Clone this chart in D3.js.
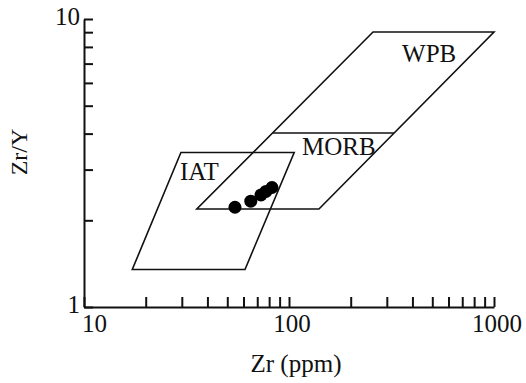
<!DOCTYPE html>
<html>
<head>
<meta charset="utf-8">
<script src="https://cdn.jsdelivr.net/npm/d3@7"></script>
<style>
  body { margin: 0; background: #fff; }
  text { font-family: "Liberation Serif", "Times New Roman", serif; fill: #111; }
</style>
</head>
<body>
<svg id="chart" width="526" height="383"></svg>
<script>
// field outlines (Zr ppm, Zr/Y)
var iatZr = [17.2, 61, 106, 29.7];
var iatZrY = [1.35, 1.35, 3.44, 3.44];
var wpbZr = [35.5, 140, 1000, 257];
var wpbZrY = [2.19, 2.19, 9.01, 9.01];
var morbTopZr = [83.6, 325];
var morbTopZrY = [4.02, 4.02];

// samples
var sampleZr = [54.5, 65.1, 73.0, 77.2, 82.6];
var sampleZrY = [2.22, 2.33, 2.45, 2.52, 2.60];

// field names
var fieldNames = ["WPB", "MORB", "IAT"];
var fieldZr = [356, 115.7, 29.4];
var fieldZrY = [7.09, 3.37, 2.76];

var xTickLabels = [10, 100, 1000];
var yTickLabels = [1, 10];

var svg = d3.select("#chart");

var x = d3.scaleLog().domain([10, 1000]).range([84, 494]);
var y = d3.scaleLog().domain([1, 10]).range([307, 19]);

// x axis, ticks pointing up
var xTicks = d3.range(10, 100, 10).concat(d3.range(100, 1001, 100));
svg.append("g")
    .attr("transform", "translate(0," + y(1) + ")")
    .call(d3.axisBottom(x).tickValues(xTicks).tickSizeInner(-10).tickSizeOuter(0).tickFormat(""))
    .call(function(g){ g.selectAll("line, path").attr("stroke", "#111").attr("stroke-width", 2); });

// y axis, ticks pointing right
var yTicks = d3.range(1, 11);
svg.append("g")
    .attr("transform", "translate(" + x(10) + ",0)")
    .call(d3.axisLeft(y).tickValues(yTicks).tickSizeInner(-9).tickSizeOuter(0).tickFormat(""))
    .call(function(g){ g.selectAll("line, path").attr("stroke", "#111").attr("stroke-width", 2); });

// tick labels
svg.selectAll(".xl")
    .data(xTickLabels)
    .enter().append("text")
    .attr("class", "xl")
    .attr("x", function(d){ return d == 10 ? x(d) - 2 : x(d) + 3; })
    .attr("y", 332)
    .attr("text-anchor", function(d){ return d == 10 ? "start" : "middle"; })
    .attr("font-size", 25)
    .text(function(d){ return d; });

svg.selectAll(".yl")
    .data(yTickLabels)
    .enter().append("text")
    .attr("class", "yl")
    .attr("x", 80)
    .attr("y", function(d){ return y(d) + 6; })
    .attr("text-anchor", "end")
    .attr("font-size", 25)
    .text(function(d){ return d; });

// axis titles
svg.append("text")
    .attr("x", 296).attr("y", 372)
    .attr("text-anchor", "middle")
    .attr("font-size", 25)
    .text("Zr (ppm)");

svg.append("text")
    .attr("transform", "translate(27,152) rotate(-90)")
    .attr("text-anchor", "middle")
    .attr("font-size", 24)
    .text("Zr/Y");

// fields
var line = d3.line()
    .x(function(d){ return x(d[0]); })
    .y(function(d){ return y(d[1]); });

function outline(zr, zry, closed){
    var pts = d3.zip(zr, zry);
    svg.append("path")
        .attr("d", line(pts) + (closed ? "Z" : ""))
        .attr("fill", "none")
        .attr("stroke", "#111")
        .attr("stroke-width", 1.6);
}
outline(iatZr, iatZrY, true);
outline(wpbZr, wpbZrY, true);
outline(morbTopZr, morbTopZrY, false);

svg.selectAll(".field")
    .data(fieldNames)
    .enter().append("text")
    .attr("class", "field")
    .attr("x", function(d, i){ return x(fieldZr[i]); })
    .attr("y", function(d, i){ return y(fieldZrY[i]); })
    .attr("font-size", 25)
    .text(function(d){ return d; });

// samples
svg.selectAll(".dot")
    .data(d3.zip(sampleZr, sampleZrY))
    .enter().append("circle")
    .attr("class", "dot")
    .attr("cx", function(d){ return x(d[0]); })
    .attr("cy", function(d){ return y(d[1]); })
    .attr("r", 6.5)
    .attr("fill", "#000");
</script>
</body>
</html>
